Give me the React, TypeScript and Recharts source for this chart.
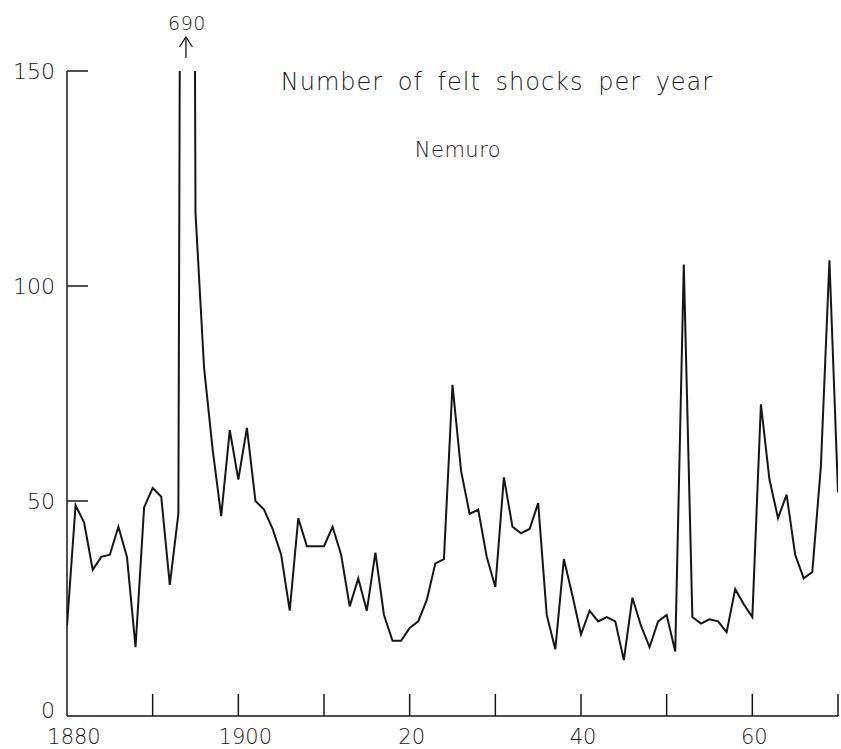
import { LineChart, Line, XAxis, YAxis, ReferenceDot } from 'recharts'

const years = [
  1880, 1881, 1882, 1883, 1884, 1885, 1886, 1887, 1888, 1889,
  1890, 1891, 1892, 1893, 1894, 1895, 1896, 1897, 1898, 1899,
  1900, 1901, 1902, 1903, 1904, 1905, 1906, 1907, 1908, 1909,
  1910, 1911, 1912, 1913, 1914, 1915, 1916, 1917, 1918, 1919,
  1920, 1921, 1922, 1923, 1924, 1925, 1926, 1927, 1928, 1929,
  1930, 1931, 1932, 1933, 1934, 1935, 1936, 1937, 1938, 1939,
  1940, 1941, 1942, 1943, 1944, 1945, 1946, 1947, 1948, 1949,
  1950, 1951, 1952, 1953, 1954, 1955, 1956, 1957, 1958, 1959,
  1960, 1961, 1962, 1963, 1964, 1965, 1966, 1967, 1968, 1969,
  1970,
]

// felt shocks per year at Nemuro (1894 goes off the top: 690)
const shocks = [
  21, 49, 45, 34, 37, 37.5, 44, 37, 16, 48.5,
  53, 51, 30.5, 47, 690, 117, 81, 62, 46.5, 66.5,
  55, 67, 50, 48, 43.5, 37.5, 24.5, 46, 39.5, 39.5,
  39.5, 44, 37.5, 25.5, 32, 24.5, 38, 23.5, 17.5, 17.5,
  20.5, 22, 27, 35.5, 36.5, 77, 57, 47, 48, 37,
  30, 55.5, 44, 42.5, 43.5, 49.5, 23.5, 15.5, 36.5, 28,
  19, 24.5, 22, 23, 22, 13, 27.5, 21, 16, 22,
  23.5, 15, 105, 23, 21.5, 22.5, 22, 19.5, 29.5, 26,
  23, 72.5, 55, 46, 51.5, 37.5, 32, 33.5, 58, 106,
  52,
]

const xTicks = [1880, 1890, 1900, 1910, 1920, 1930, 1940, 1950, 1960, 1970]
const xLabelYears = [1880, 1900, 1920, 1940, 1960]
const xLabelTexts = ['1880', '1900', '20', '40', '60']
const yTicks = [0, 50, 100, 150]

const peakYear = 1894
const peakLabel = '690'

const INK = '#161616'
const FONT = '"DejaVu Sans", sans-serif'

const data = years.map((year, i) => ({ year, shocks: shocks[i] }))

function XTick(props: any) {
  const { x, y, payload } = props
  const v = payload.value
  const idx = xLabelYears.indexOf(v)
  const txt = idx >= 0 ? xLabelTexts[idx] : null
  return (
    <g>
      {v !== 1880 && <line x1={x} y1={y} x2={x} y2={y - 22} stroke={INK} strokeWidth={1.5} />}
      {txt && (
        <text
          x={x + (txt.length === 4 ? 7 : 2)}
          y={y + 28}
          textAnchor="middle"
          fontFamily={FONT}
          fontSize={21}
          fontWeight={300}
          fill={INK}
        >
          {txt}
        </text>
      )}
    </g>
  )
}

function YTick(props: any) {
  const { x, y, payload } = props
  const zero = payload.value === 0
  return (
    <g>
      {!zero && <line x1={x} y1={y} x2={x + 21} y2={y} stroke={INK} strokeWidth={1.5} />}
      <text
        x={x - 12}
        y={zero ? y - 6 : y}
        dy="0.36em"
        textAnchor="end"
        fontFamily={FONT}
        fontSize={22}
        fontWeight={300}
        fill={INK}
      >
        {payload.value}
      </text>
    </g>
  )
}

// arrow + value for the clipped 1894 peak
function PeakNote(props: any) {
  const { cx, cy } = props
  return (
    <g>
      <text x={cx} y={cy - 41} textAnchor="middle" fontFamily={FONT} fontSize={19} fontWeight={300} letterSpacing={0.5} fill={INK}>
        {peakLabel}
      </text>
      <line x1={cx - 1} y1={cy - 13} x2={cx - 1} y2={cy - 34} stroke={INK} strokeWidth={1.3} />
      <polyline
        points={`${cx - 7.5},${cy - 24} ${cx - 1},${cy - 34} ${cx + 5.5},${cy - 24}`}
        fill="none"
        stroke={INK}
        strokeWidth={1.3}
      />
    </g>
  )
}

export default function App() {
  return (
    <div style={{ position: 'absolute', left: 0, top: 0, width: 841, height: 749, background: '#fff' }}>
      <LineChart width={841} height={749} data={data} margin={{ top: 71, right: 3, bottom: 0, left: 0 }}>
        <XAxis
          dataKey="year"
          type="number"
          domain={[1880, 1970]}
          ticks={xTicks}
          interval={0}
          height={33}
          tickSize={0}
          tickMargin={0}
          tickLine={false}
          axisLine={{ stroke: INK, strokeWidth: 1.5 }}
          tick={<XTick />}
          allowDataOverflow
        />
        <YAxis
          type="number"
          domain={[0, 150]}
          ticks={yTicks}
          interval={0}
          width={67}
          tickSize={0}
          tickMargin={0}
          tickLine={false}
          axisLine={{ stroke: INK, strokeWidth: 1.5 }}
          tick={<YTick />}
          allowDataOverflow
        />
        <Line
          type="linear"
          dataKey="shocks"
          stroke={INK}
          strokeWidth={2}
          dot={false}
          isAnimationActive={false}
        />
        <ReferenceDot x={peakYear} y={150} r={0} ifOverflow="visible" shape={PeakNote} />
        <text x={497} y={90} textAnchor="middle" fontFamily={FONT} fontSize={24} fontWeight={300} letterSpacing={1} wordSpacing={6} fill={INK}>
          Number of felt shocks per year
        </text>
        <text x={458} y={157} textAnchor="middle" fontFamily={FONT} fontSize={21} fontWeight={300} letterSpacing={0.5} fill={INK}>
          Nemuro
        </text>
      </LineChart>
    </div>
  )
}
